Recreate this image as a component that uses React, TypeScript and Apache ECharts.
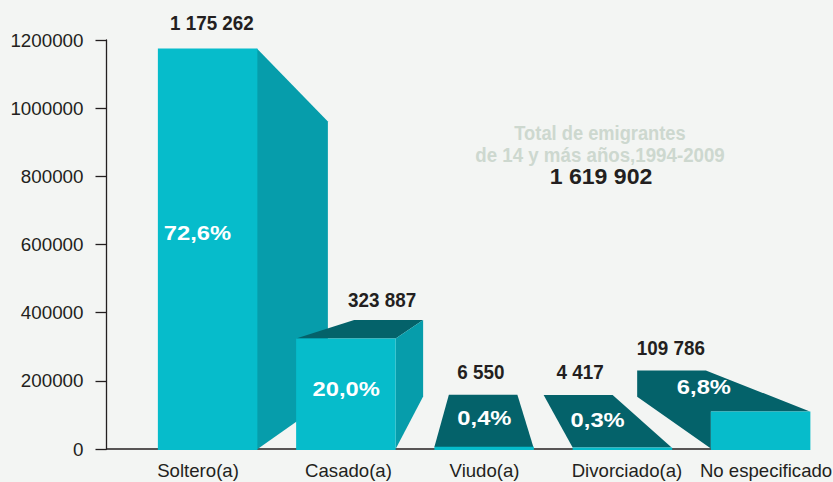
import React, { useEffect, useRef } from "react";
import * as echarts from "echarts";

const categories = ["Soltero(a)", "Casado(a)", "Viudo(a)", "Divorciado(a)", "No especificado"];
const values = [1175262, 323887, 6550, 4417, 109786];
const valueLabels = ["1 175 262", "323 887", "6 550", "4 417", "109 786"];
const percentLabels = ["72,6%", "20,0%", "0,4%", "0,3%", "6,8%"];
const noteLines = ["Total de emigrantes", "de 14 y más años,1994-2009"];
const noteTotal = "1 619 902";

const CYAN = "#06BCCB";
const SIDE = "#069DAB";
const DARK = "#04626A";
const INK = "#231F20";
const SANS = '"Liberation Sans", Arial, sans-serif';

// Decorative faces, in pixels relative to each bar's top-left corner.
const faces: { fill: string; pts: number[][] }[][] = [
  [{ fill: SIDE, pts: [[99, 0], [170, 73], [170, 351], [99, 401]] }],
  [
    { fill: DARK, pts: [[0, 0], [58, -18.5], [127, -18.5], [99.5, 0]] },
    { fill: SIDE, pts: [[99.5, 0], [127, -18.5], [127, 58], [99.5, 110.5]] },
  ],
  [{ fill: DARK, pts: [[0, 0.3], [14.5, -52], [83, -52], [99, 0.3]] }],
  [{ fill: DARK, pts: [[0, 0], [-29, -52.5], [40, -52.5], [99, 0]] }],
  [{ fill: DARK, pts: [[99, 0], [0, 0], [0, 37], [-73.7, -14.9], [-73.7, -41.2], [-5, -41.2]] }],
];
// Label anchors relative to the bar's top-left corner: value label, percentage label.
const valueAnchor = [[54, -25.5], [86, -39], [46.5, -75], [7.5, -75.5], [-40, -64]];
const percentAnchor = [[39.5, 185], [50, 50.5], [50, -28.5], [25, -27.5], [-7, -24.5]];
// Horizontal nudges of the category labels.
const labelShift = [-9.6, 2.6, 0.4, 4.6, 5.4];

const BAR_W = 99.5;

function renderItem(_params: any, api: any) {
  const i = api.value(0);
  const v = api.value(1);
  const [cx, yt] = api.coord([i, v]);
  const [, yb] = api.coord([i, 0]);
  const x0 = cx - BAR_W / 2;
  const children: any[] = faces[i].map((f) => ({
    type: "polygon",
    shape: { points: f.pts.map(([dx, dy]) => [x0 + dx, yt + dy]) },
    style: { fill: f.fill },
  }));
  children.push({
    type: "rect",
    shape: { x: x0, y: yt, width: BAR_W, height: yb - yt + 1 },
    style: { fill: CYAN },
  });
  children.push({
    type: "text",
    x: x0 + valueAnchor[i][0],
    y: yt + valueAnchor[i][1],
    scaleX: 0.92,
    style: {
      text: valueLabels[i],
      fill: INK,
      font: `bold 20.5px ${SANS}`,
      align: "center",
      verticalAlign: "middle",
    },
  });
  children.push({
    type: "text",
    x: x0 + percentAnchor[i][0],
    y: yt + percentAnchor[i][1],
    scaleX: 1.13,
    style: {
      text: percentLabels[i],
      fill: "#FFFFFF",
      font: `bold 21px ${SANS}`,
      align: "center",
      verticalAlign: "middle",
    },
  });
  return { type: "group", children };
}

export default function App() {
  const ref = useRef<HTMLDivElement>(null);
  useEffect(() => {
    document.body.style.margin = "0";
    const chart = echarts.init(ref.current!, undefined, { renderer: "svg" });
    const rich: any = {};
    labelShift.forEach((s, i) => {
      rich["c" + i] = {
        fontFamily: SANS,
        fontSize: 18.6,
        color: INK,
        padding: s < 0 ? [0, -2 * s, 0, 0] : [0, 0, 0, 2 * s],
      };
    });
    chart.setOption({
      animation: false,
      backgroundColor: "#F3F5F3",
      grid: { left: 138.5, top: 40, width: 691.25, height: 409, outerBoundsMode: "none" },
      xAxis: {
        type: "category",
        data: categories,
        axisLine: { show: false },
        axisTick: { show: false },
        axisLabel: {
          interval: 0,
          margin: 12,
          hideOverlap: false,
          formatter: (v: string, i: number) => `{c${i}|${v}}`,
          rich,
        },
      },
      yAxis: {
        type: "value",
        min: 0,
        max: 1200000,
        interval: 200000,
        offset: 32,
        splitLine: { show: false },
        axisLine: { show: true, lineStyle: { color: INK, width: 1.3 } },
        axisTick: { show: true, length: 11, lineStyle: { color: INK, width: 1.3 } },
        axisLabel: { margin: 23, fontFamily: SANS, fontSize: 18.8, color: INK, formatter: (v: number) => String(v) },
      },
      graphic: [
        { type: "line", z: 0, shape: { x1: 106, y1: 449, x2: 810, y2: 449 }, style: { stroke: INK, lineWidth: 1.3 } },
        { type: "text", x: 600, y: 133, scaleX: 0.915, style: { text: noteLines[0], fill: "#CDD8CF", font: `bold 20px ${SANS}`, align: "center", verticalAlign: "middle" } },
        { type: "text", x: 600, y: 155, scaleX: 0.935, style: { text: noteLines[1], fill: "#CDD8CF", font: `bold 20px ${SANS}`, align: "center", verticalAlign: "middle" } },
        { type: "text", x: 601, y: 177, scaleX: 1.05, style: { text: noteTotal, fill: INK, font: `bold 22px ${SANS}`, align: "center", verticalAlign: "middle" } },
      ],
      series: [
        {
          type: "custom",
          renderItem,
          encode: { x: 0, y: 1 },
          clip: false,
          data: values.map((v, i) => [i, v]),
        },
      ],
    });
    return () => chart.dispose();
  }, []);
  return <div ref={ref} style={{ width: 833, height: 482 }} />;
}
